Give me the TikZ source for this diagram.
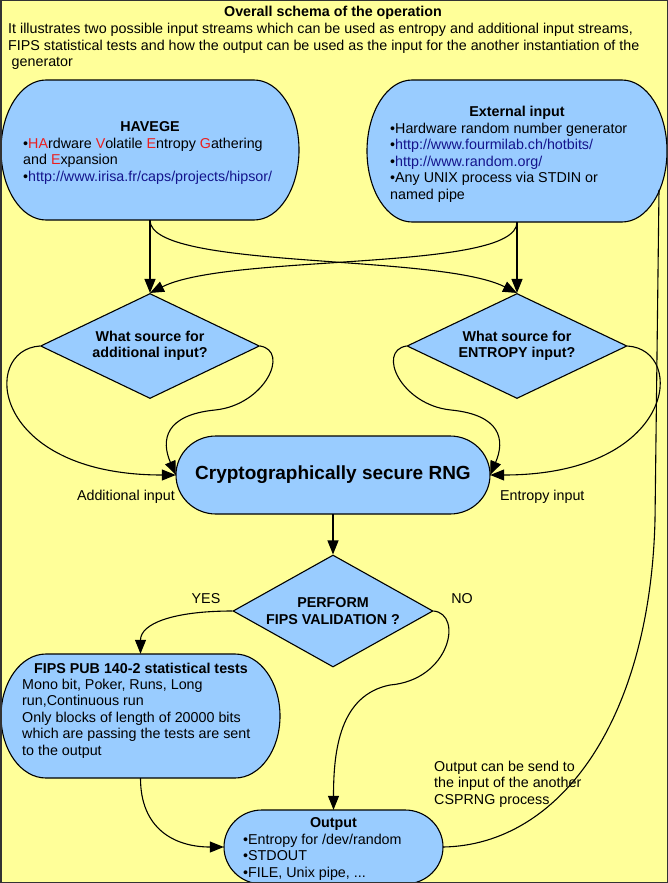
\documentclass[tikz,border=0pt]{standalone}
\usepackage{fontspec}
\setmainfont{Liberation Sans}
\usetikzlibrary{arrows.meta,shapes.geometric,calc}
\definecolor{bgy}{HTML}{FFFF99}
\definecolor{boxb}{HTML}{99CCFF}
\definecolor{lnk}{RGB}{20,20,140}
\definecolor{rd}{RGB}{235,30,30}
\definecolor{framec}{HTML}{333333}
\newcommand\fs{\fontsize{14.3}{16.5}\selectfont}
\tikzset{
  boxsty/.style={draw=black, line width=1.1pt, fill=boxb},
  anchorbox/.style={rectangle, inner sep=0pt, draw=none, align=center},
  dia/.style={diamond, draw=black, line width=1.1pt, fill=boxb, inner sep=0pt, aspect=2, align=center, font=\fs\bfseries},
  conn/.style={draw=black, line width=1.1pt},
  arr/.style={conn, -{Triangle[length=14pt,width=11pt]}},
  txt/.style={inner sep=0pt, align=left, font=\fs},
  ttl/.style={inner sep=0pt, font=\fs\bfseries},
}
% name, cx, cy, w, h, rx, content
\newcommand\stadium[7]{%
  \draw[boxsty] ({#2-#4/2+#6},{#3-#5/2}) -- ({#2+#4/2-#6},{#3-#5/2})
    arc[start angle=-90,end angle=90,x radius=#6,y radius=#5/2]
    -- ({#2-#4/2+#6},{#3+#5/2})
    arc[start angle=90,end angle=270,x radius=#6,y radius=#5/2] -- cycle;
  \node[anchorbox,minimum width=#4pt,minimum height=#5pt] (#1) at (#2,#3) {#7};}
\begin{document}
\begin{tikzpicture}[x=1pt,y=-1pt,font=\fs]
\useasboundingbox (0,0) rectangle (668,883);
\fill[bgy] (0,0) rectangle (668,883);

% boxes
\stadium{hav}{150}{150}{298}{140}{45}{}
\stadium{ext}{517}{151}{300}{142}{45}{}
\stadium{rng}{333}{475}{314}{78}{40}{\fontsize{19}{22}\selectfont\bfseries Cryptographically secure RNG}
\stadium{fips}{140.5}{716}{279}{124}{45}{}
\stadium{out}{333.5}{847}{219}{74}{38}{}

\node[dia,minimum width=219pt,minimum height=105pt] (d1) at (150,346) {What source for\\additional input?};
\node[dia,minimum width=220pt,minimum height=105pt] (d2) at (517,346) {What source for\\ENTROPY input?};
\node[dia,minimum width=200pt,minimum height=112pt] (d3) at (333,611) {PERFORM\\FIPS VALIDATION ?};

% connectors
\draw[arr] (hav.south) -- (d1.north);
\draw[arr] (ext.south) -- (d2.north);
\draw[arr] (hav.south) .. controls +(0,50) and +(-80,-40) .. (d2.north);
\draw[arr] (ext.south) .. controls +(0,50) and +(80,-40) .. (d1.north);
\draw[arr] (d1.west) .. controls +(-60,4) and +(-185,0) .. (rng.west);
\draw[arr] (d1.east) .. controls +(30,5) and +(50,-5) .. (215,410) .. controls +(-50,5) and +(-15,-35) .. (rng.west);
\draw[arr] (d2.east) .. controls +(60,4) and +(185,0) .. (rng.east);
\draw[arr] (d2.west) .. controls +(-30,5) and +(-50,-5) .. (451,410) .. controls +(50,5) and +(15,-35) .. (rng.east);
\draw[arr] (rng.south) -- (d3.north);
\draw[arr] (d3.west) .. controls +(-60,0) and +(0,-30) .. (fips.north);
\draw[arr] (d3.east) .. controls +(30,3) and +(60,-5) .. (390,685) .. controls +(-50,10) and +(0,-60) .. (out.north);
\draw[arr] (fips.south) .. controls +(0,50) and +(-50,0) .. (out.west);
\coordinate (fbend) at (659,190);
\draw[conn] (out.east) .. controls +(117,-2) and +(-5,200) .. (655,520) -- (fbend);

% texts
\node[ttl,anchor=base] (title) at (333,17) {Overall schema of the operation};
\node[txt,anchor=north west] (desc) at (8,22) {\strut It illustrates two possible input streams which can be used as entropy and additional input streams,\\FIPS statistical tests and how the output can be used as the input for the another instantiation of the\\\hspace*{3.5pt}generator};

\node[ttl,anchor=base] (havt) at (150,131) {HAVEGE};
\node[txt,anchor=north west] (havb) at (23,136.5) {\strut•\textcolor{rd}{HA}rdware \textcolor{rd}{V}olatile \textcolor{rd}{E}ntropy \textcolor{rd}{G}athering\\and \textcolor{rd}{E}xpansion\\•\textcolor{lnk}{http://www.irisa.fr/caps/projects/hipsor/}};

\node[ttl,anchor=base] (extt) at (517,116) {External input};
\node[txt,anchor=north west] (extb) at (390,121.5) {\strut•Hardware random number generator\\•\textcolor{lnk}{http://www.fourmilab.ch/hotbits/}\\•\textcolor{lnk}{http://www.random.org/}\\•Any UNIX process via STDIN or\\named pipe};

\node[txt,anchor=base east] (labadd) at (175,500) {Additional input};
\node[txt,anchor=base west] (labent) at (500,500) {Entropy input};
\node[txt,anchor=base] (yes) at (206,603) {YES};
\node[txt,anchor=base] (no) at (462,603) {NO};

\node[ttl,anchor=base] (fipst) at (141,673) {FIPS PUB 140-2 statistical tests};
\node[txt,anchor=north west] (fipsb) at (22,677.5) {\strut Mono bit, Poker, Runs, Long\\run,Continuous run\\Only blocks of length of 20000 bits\\which are passing the tests are sent\\to the output};

\node[txt,anchor=north west] (fbnote) at (434,759.5) {\strut Output can be send to\\the input of the another\\CSPRNG process};

\node[ttl,anchor=base] (outt) at (333.5,827) {Output};
\node[txt,anchor=north west] (outb) at (243,832.5) {\strut•Entropy for /dev/random\\•STDOUT\\•FILE, Unix pipe, ...};

\draw[framec,line width=1.5pt] (0.75,0.75) rectangle (667.25,882.25);
\end{tikzpicture}
\end{document}
